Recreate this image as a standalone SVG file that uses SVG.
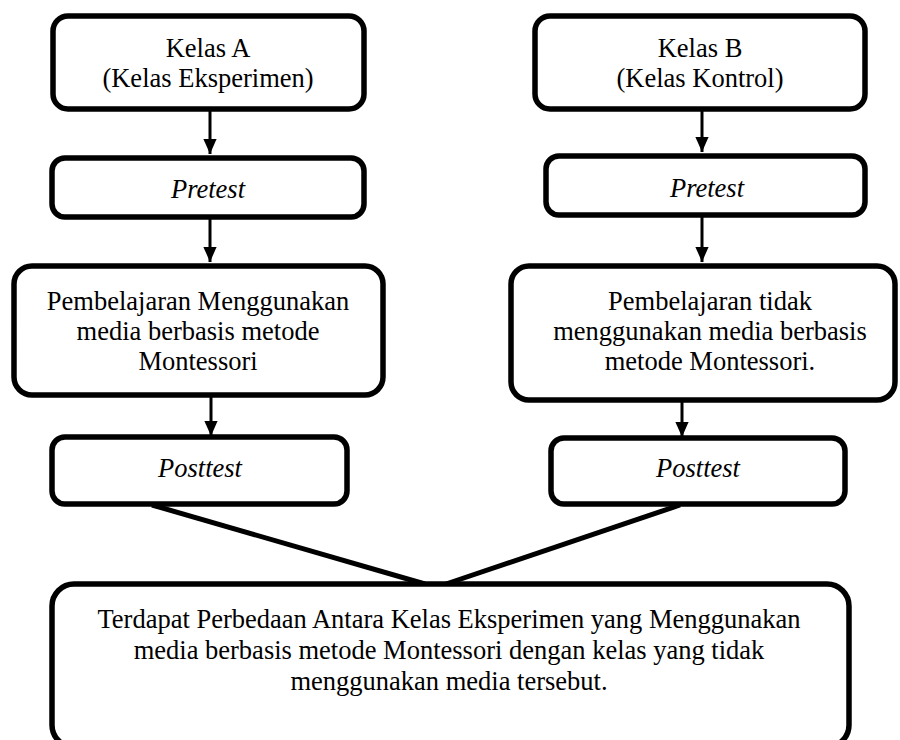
<svg xmlns="http://www.w3.org/2000/svg" width="900" height="740" viewBox="0 0 900 740">
<defs>
<marker id="ah" markerWidth="5" markerHeight="4.4" refX="5" refY="2.2" orient="auto" markerUnits="strokeWidth">
<path d="M0,0 L5,2.2 L0,4.4 Z" fill="#000"/>
</marker>
</defs>
<style>
.box{fill:#fff;stroke:#000;stroke-width:5.5}
.t{font-size:26.5px;fill:#000;text-anchor:middle}
.i{font-style:italic}
.arr{stroke:#000;stroke-width:3;fill:none;marker-end:url(#ah)}
.ln{stroke:#000;stroke-width:5;fill:none}
</style>
<rect width="900" height="740" fill="#fff"/>
<g id="connectors">
<line class="arr" x1="210" y1="110" x2="210" y2="154"/>
<line class="arr" x1="210" y1="218" x2="210" y2="262"/>
<line class="arr" x1="211" y1="396" x2="211" y2="436"/>
<line class="arr" x1="702" y1="110" x2="702" y2="152"/>
<line class="arr" x1="702" y1="216" x2="702" y2="262"/>
<line class="arr" x1="682" y1="401" x2="682" y2="437"/>
<line class="ln" x1="152" y1="505" x2="425" y2="584"/>
<line class="ln" x1="680" y1="505" x2="446" y2="584"/>
</g>
<g font-family="'Liberation Serif', 'Times New Roman', 'DejaVu Serif', serif">
<g id="kelasA">
<rect class="box" x="53" y="16" width="311" height="93" rx="15"/>
<text class="t" x="208" y="57">Kelas A</text>
<text class="t" x="208" y="87">(Kelas Eksperimen)</text>
</g>
<g id="pretestA">
<rect class="box" x="52" y="158" width="312" height="59" rx="13"/>
<text class="t i" x="208" y="198">Pretest</text>
</g>
<g id="pembelajaranA">
<rect class="box" x="14" y="266" width="369" height="129" rx="18"/>
<text class="t" x="198" y="310">Pembelajaran Menggunakan</text>
<text class="t" x="198" y="340">media berbasis metode</text>
<text class="t" x="198" y="370">Montessori</text>
</g>
<g id="posttestA">
<rect class="box" x="52" y="437" width="295" height="67" rx="13"/>
<text class="t i" x="200" y="477">Posttest</text>
</g>
<g id="kelasB">
<rect class="box" x="535" y="16" width="330" height="93" rx="15"/>
<text class="t" x="700" y="57">Kelas B</text>
<text class="t" x="700" y="87">(Kelas Kontrol)</text>
</g>
<g id="pretestB">
<rect class="box" x="546" y="156" width="319" height="59" rx="13"/>
<text class="t i" x="707" y="197">Pretest</text>
</g>
<g id="pembelajaranB">
<rect class="box" x="511" y="266" width="384" height="134" rx="18"/>
<text class="t" x="710" y="310">Pembelajaran tidak</text>
<text class="t" x="710" y="340">menggunakan media berbasis</text>
<text class="t" x="710" y="370">metode Montessori.</text>
</g>
<g id="posttestB">
<rect class="box" x="551" y="438" width="294" height="66" rx="13"/>
<text class="t i" x="698" y="477">Posttest</text>
</g>
<g id="hasil">
<rect class="box" x="52" y="584" width="797" height="163" rx="22"/>
<text class="t" x="449" y="628">Terdapat Perbedaan Antara Kelas Eksperimen yang Menggunakan</text>
<text class="t" x="449" y="659">media berbasis metode Montessori dengan kelas yang tidak</text>
<text class="t" x="449" y="690">menggunakan media tersebut.</text>
</g>
</g>
</svg>
